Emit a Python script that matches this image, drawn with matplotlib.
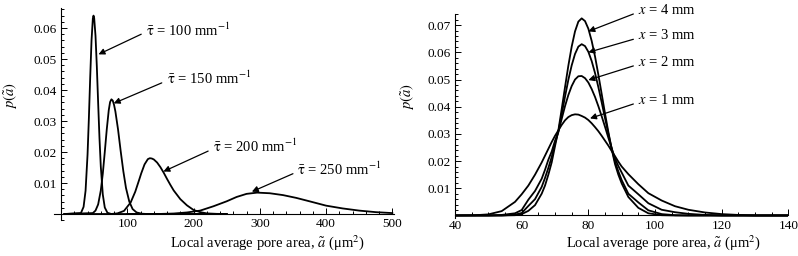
import matplotlib.pyplot as plt
from matplotlib.ticker import MultipleLocator

plt.rcParams['font.family'] = 'Liberation Serif'
plt.rcParams['mathtext.fontset'] = 'stix'

# left panel: pore area distributions for several tortuosity values
tau100_a = [5, 30, 34, 37, 40, 42, 44, 46, 48, 49, 50, 52, 54, 56, 58, 60, 63, 66, 70, 76, 250]
tau100_p = [0, 0.0003, 0.0023, 0.0075, 0.0192, 0.0309, 0.0441, 0.0560, 0.0631, 0.0640, 0.0632,
            0.0575, 0.0476, 0.0358, 0.0245, 0.0153, 0.0063, 0.0021, 0.0004, 0, 0]

tau150_a = [5, 48, 52, 56, 60, 63, 66, 69, 72, 74, 76, 78, 80, 82, 86, 90, 94, 98, 103, 108, 114,
            122, 130, 250]
tau150_p = [0, 0.0003, 0.0011, 0.0031, 0.0076, 0.0130, 0.0200, 0.0273, 0.0335, 0.0361, 0.0370,
            0.0366, 0.0352, 0.0331, 0.0273, 0.0203, 0.0138, 0.0084, 0.0040, 0.0016, 0.0005, 0.0001,
            0, 0]

tau200_a = [5, 75, 85, 95, 105, 112, 118, 121, 126, 131, 134, 137, 140, 145, 150, 155, 160, 165,
            170, 180, 190, 200, 210, 220, 235, 250]
tau200_p = [0, 0, 0.0002, 0.0010, 0.0037, 0.0072, 0.0111, 0.0131, 0.0160, 0.0177, 0.0180, 0.0179,
            0.0176, 0.0166, 0.0151, 0.0133, 0.0113, 0.0094, 0.0076, 0.0048, 0.0028, 0.0013, 0.0006,
            0.0002, 0.00005, 0]

tau250_a = [100, 150, 170, 190, 210, 230, 250, 265, 280, 296, 315, 335, 355, 375, 400, 425, 450, 475, 500]
tau250_p = [0, 0.00003, 0.00016, 0.0005, 0.0011, 0.0025, 0.0041, 0.0055, 0.0065, 0.0069, 0.0067,
            0.0061, 0.0052, 0.0041, 0.0027, 0.0018, 0.0011, 0.0006, 0.0003]

tau_labels = ['100', '150', '200', '250']

# right panel: distributions at several distances x
area_right = [40, 46, 50, 54, 58, 60, 62, 64,
              66, 67, 68, 69, 70, 71, 72, 73, 74, 75, 76, 77, 78,
              79, 80, 81, 82, 83, 84, 85, 86, 87, 88, 89, 90,
              92, 95, 98, 102, 106, 110, 115, 120, 125, 130, 140]
p_x1 = [0, 0.0001, 0.0004, 0.0016, 0.0050, 0.0078, 0.0110, 0.0150,
        0.0195, 0.0220, 0.0245, 0.0270, 0.0293, 0.0313, 0.0333, 0.0350, 0.0362, 0.0369, 0.0372,
        0.0371, 0.0366,
        0.0360, 0.0351, 0.0339, 0.0325, 0.0310, 0.0293, 0.0275, 0.0257, 0.0237, 0.0218, 0.0198,
        0.0180,
        0.0152, 0.0115, 0.0082, 0.0055, 0.0034, 0.0021, 0.0011, 0.0005, 0.0002, 0, 0]
p_x2 = [0, 0, 0, 0.0002, 0.0008, 0.0020, 0.0058, 0.0090,
        0.0135, 0.0168, 0.0205, 0.0235, 0.0275, 0.0307, 0.0355, 0.0402, 0.0443, 0.0476, 0.0500,
        0.0512, 0.0513,
        0.0505, 0.0489, 0.0465, 0.0436, 0.0402, 0.0365, 0.0326, 0.0286, 0.0247, 0.0210, 0.0182,
        0.0158,
        0.0110, 0.0078, 0.0045, 0.0021, 0.0012, 0.0006, 0.0002, 0, 0, 0, 0]
p_x3 = [0, 0, 0, 0, 0.0003, 0.0009, 0.0035, 0.0060,
        0.0105, 0.0138, 0.0175, 0.0215, 0.0265, 0.0308, 0.0372, 0.0437, 0.0499, 0.0552, 0.0594,
        0.0621, 0.0630,
        0.0623, 0.0602, 0.0568, 0.0524, 0.0472, 0.0416, 0.0358, 0.0301, 0.0247, 0.0198, 0.0162,
        0.0130,
        0.0080, 0.0048, 0.0019, 0.0005, 0.0001, 0, 0, 0, 0, 0, 0]
p_x4 = [0, 0, 0, 0, 0.0001, 0.0005, 0.0017, 0.0038,
        0.0080, 0.0110, 0.0150, 0.0195, 0.0255, 0.0313, 0.0391, 0.0472, 0.0551, 0.0621, 0.0677,
        0.0713, 0.0725,
        0.0715, 0.0687, 0.0642, 0.0585, 0.0518, 0.0447, 0.0375, 0.0307, 0.0244, 0.0189, 0.0150,
        0.0118,
        0.0068, 0.0028, 0.0008, 0.0001, 0, 0, 0, 0, 0, 0, 0]

x_labels = ['1', '2', '3', '4']

fig = plt.figure(figsize=(7.98, 2.56), dpi=100)
ax1 = fig.add_axes([0.0682, 0.1398, 0.4251, 0.8295])
ax2 = fig.add_axes([0.5702, 0.1477, 0.4177, 0.7976])

lw = 1.3
for a, p in [(tau100_a, tau100_p), (tau150_a, tau150_p), (tau200_a, tau200_p), (tau250_a, tau250_p)]:
    ax1.plot(a, p, color='black', lw=lw, solid_joinstyle='round')

for p in [p_x1, p_x2, p_x3, p_x4]:
    ax2.plot(area_right, p, color='black', lw=lw, solid_joinstyle='round')


def style_axes(ax, x0, xlim, ylim, xmajor, xminor):
    ax.set_xlim(*xlim)
    ax.set_ylim(*ylim)
    ax.spines['top'].set_visible(False)
    ax.spines['right'].set_visible(False)
    ax.spines['left'].set_position(('data', x0))
    ax.spines['bottom'].set_position(('data', 0))
    for s in ['left', 'bottom']:
        ax.spines[s].set_linewidth(0.8)
    ax.xaxis.set_major_locator(MultipleLocator(xmajor))
    ax.xaxis.set_minor_locator(MultipleLocator(xminor))
    ax.yaxis.set_major_locator(MultipleLocator(0.01))
    ax.yaxis.set_minor_locator(MultipleLocator(0.002))
    ax.tick_params(which='both', direction='in', labelsize=9.5, width=0.7, pad=3)
    ax.tick_params(which='major', length=4)
    ax.tick_params(which='minor', length=2)
    ax.set_ylabel(r'$p(\tilde{a})$', fontsize=10.5)


style_axes(ax1, 0, (-10, 502), (-0.002, 0.0665), 100, 20)
ax1.set_xticks([100, 200, 300, 400, 500])
ax1.set_yticks([0.01, 0.02, 0.03, 0.04, 0.05, 0.06])
ax1.yaxis.set_label_coords(-0.104, 0.585)

style_axes(ax2, 40, (40, 140), (-0.001, 0.0741), 20, 5)
ax2.set_xticks([40, 60, 80, 100, 120, 140])
ax2.set_yticks([0.01, 0.02, 0.03, 0.04, 0.05, 0.06, 0.07])
ax2.yaxis.set_label_coords(-0.117, 0.598)

xlab = r'Local average pore area, $\tilde{a}$ (μm$^2$)'
fig.text(0.3346, 0.0508, xlab, ha='center', va='center', fontsize=10.5)
fig.text(0.8308, 0.0508, xlab, ha='center', va='center', fontsize=10.5)

arrow = dict(arrowstyle='-|>', color='black', lw=0.9, mutation_scale=9, shrinkA=0, shrinkB=0)

# left annotations: (text left x, text center y, arrow tail, arrow tip)
left_notes = [
    (127.8, 0.0594, (121, 0.0580), (56.5, 0.0515)),
    (159.5, 0.0439, (152, 0.0423), (79.5, 0.0357)),
    (229.9, 0.0219, (222, 0.0203), (154.5, 0.0137)),
    (355.8, 0.0143, (350, 0.0130), (288, 0.0072)),
]
for lab, (tx, ty, tail, tip) in zip(tau_labels, left_notes):
    ax1.text(tx, ty, r'$\bar{\mathrm{\tau}}$ = ' + lab + r' mm$^{-1}$', ha='left', va='center', fontsize=10.5)
    ax1.annotate('', xy=tip, xytext=tail, arrowprops=arrow)

right_notes = [
    (0.0425, (93.5, 0.0410), (80.5, 0.0357)),
    (0.0565, (93.5, 0.0550), (80, 0.0498)),
    (0.0664, (93.5, 0.0648), (80, 0.0600)),
    (0.0755, (93.5, 0.0741), (80, 0.0677)),
]
for lab, (ty, tail, tip) in zip(x_labels, right_notes):
    ax2.text(95, ty, r'$x$ = ' + lab + ' mm', ha='left', va='center', fontsize=10.5, clip_on=False)
    ax2.annotate('', xy=tip, xytext=tail, arrowprops=arrow, annotation_clip=False)

fig.savefig('out.png', dpi=100)
